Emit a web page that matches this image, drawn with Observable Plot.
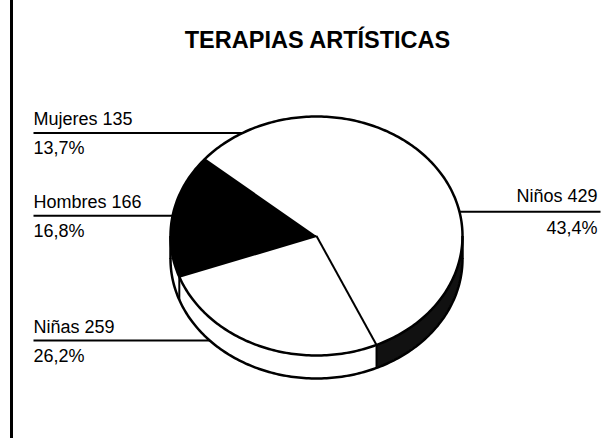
<!DOCTYPE html>
<html>
<head>
<meta charset="utf-8">
<script src="https://cdn.jsdelivr.net/npm/d3@7"></script>
<script src="https://cdn.jsdelivr.net/npm/@observablehq/plot@0.6"></script>
<style>
  html, body { margin: 0; padding: 0; background: #fff; }
  #wrap { position: relative; width: 611px; height: 438px; background: #fff; overflow: hidden; font-family: "Liberation Sans", Arial, sans-serif; }
  #edge { position: absolute; left: 10px; top: 0; width: 3px; height: 438px; background: #000; }
  #title { box-sizing: border-box; width: 611px; padding: 27px 0 0 24px; height: 53px; line-height: 26px; text-align: center; font-weight: bold; font-size: 23.5px; color: #000; }
  #chart svg { display: block; }
</style>
</head>
<body>
<div id="wrap">
  <div id="edge"></div>
  <div id="title">TERAPIAS ARTÍSTICAS</div>
  <div id="chart"></div>
</div>
<script>
// ---- data ----
const categories = ["Niñas", "Niños", "Mujeres", "Hombres"];
const values = [259, 429, 135, 166];
const topFills = ["white", "white", "white", "black"];
const wallFills = ["white", "#111", "white", "white"];
const startAngle = 200;              // degrees, counter-clockwise from 3 o'clock
const edgedSlices = ["Niñas", "Niños"]; // slices whose start edge is drawn

// ---- layout ----
const W = 611, H = 385;
const cx = 316, cy = 182.5, rx = 146, ry = 119.5;
const depth = 23 / ry;
const ux = px => (px - cx) / rx;
const rad = d => d * Math.PI / 180;
const anchorR = 0.95;

const total = d3.sum(values);
let acc = startAngle;
const slices = categories.map((name, i) => {
  const a0 = acc, a1 = acc + values[i] / total * 360;
  acc = a1;
  const mid = (a0 + a1) / 2;
  const ax = anchorR * Math.cos(rad(mid)), ay = anchorR * Math.sin(rad(mid));
  const pct = (values[i] / total * 100).toFixed(1).replace(".", ",") + "%";
  return {name, value: values[i], pct, a0, a1, mid, ax, ay, left: ax < 0, fill: topFills[i], wall: wallFills[i]};
});

function arc(a0, a1, step = 1) {
  const t = d3.range(a0, a1, step); t.push(a1); return t;
}

// top faces
const topPts = slices.flatMap(s => [{name: s.name, fill: s.fill, x: 0, y: 0},
  ...arc(s.a0, s.a1).map(t => ({name: s.name, fill: s.fill, x: Math.cos(rad(t)), y: Math.sin(rad(t))}))]);

// side walls (front half only)
const wallPts = [];
for (const s of slices) {
  for (const k of [0, 1]) {
    const lo = Math.max(s.a0, 180 + 360 * k), hi = Math.min(s.a1, 360 + 360 * k);
    if (hi > lo) for (const t of arc(lo, hi, 0.5)) {
      const y = Math.sin(rad(t));
      wallPts.push({key: s.name + k, fill: s.wall, x: Math.cos(rad(t)), y1: y - depth, y2: y});
    }
  }
}

const ellipse = arc(0, 360).map(t => ({x: Math.cos(rad(t)), y: Math.sin(rad(t))}));
const bottom = arc(180, 360).map(t => ({x: Math.cos(rad(t)), y: Math.sin(rad(t)) - depth}));
const norm = a => ((a % 360) + 360) % 360;
const frontBounds = slices.map(s => norm(s.a0)).filter(a => a > 180 && a < 360)
  .map(a => ({x: Math.cos(rad(a)), y: Math.sin(rad(a))}));
const edges = slices.filter(s => edgedSlices.includes(s.name))
  .map(s => ({x: Math.cos(rad(s.a0)), y: Math.sin(rad(s.a0))}));

const leftS = slices.filter(s => s.left), rightS = slices.filter(s => !s.left);
const xLeft = ux(33), xRight = ux(600);
const font = {fontSize: 18, fill: "black", fontFamily: "Liberation Sans, Arial, sans-serif"};

const chart = Plot.plot({
  width: W, height: H, margin: 0,
  x: {domain: [-1, 1], range: [cx - rx, cx + rx], axis: null},
  y: {domain: [-1, 1], range: [cy + ry, cy - ry], axis: null},
  color: {type: "identity"},
  style: {background: "white", overflow: "visible"},
  marks: [
    Plot.link(slices, {x1: d => d.left ? xLeft : d.ax, x2: d => d.left ? d.ax : xRight, y1: "ay", y2: "ay", stroke: "black", strokeWidth: 2}),
    Plot.areaY(wallPts, {x: "x", y1: "y1", y2: "y2", z: "key", fill: "fill", curve: "linear"}),
    Plot.line(topPts, {x: "x", y: "y", z: "name", fill: "fill", stroke: null, curve: "linear-closed"}),
    Plot.line(ellipse, {x: "x", y: "y", stroke: "black", strokeWidth: 2.5}),
    Plot.line(bottom, {x: "x", y: "y", stroke: "black", strokeWidth: 2.5}),
    Plot.link([-1, 1], {x1: d => d, x2: d => d, y1: 0, y2: -depth, stroke: "black", strokeWidth: 2.5}),
    Plot.link(frontBounds, {x1: "x", x2: "x", y1: "y", y2: d => d.y - depth, stroke: "black", strokeWidth: 2}),
    Plot.link(edges, {x1: 0, y1: 0, x2: "x", y2: "y", stroke: "black", strokeWidth: 2}),
    Plot.text(leftS, {y: "ay", text: d => `${d.name} ${d.value}`, frameAnchor: "left", dx: 33, dy: -8, textAnchor: "start", lineAnchor: "bottom", ...font}),
    Plot.text(leftS, {y: "ay", text: "pct", frameAnchor: "left", dx: 33, dy: 21, textAnchor: "start", lineAnchor: "bottom", ...font}),
    Plot.text(rightS, {y: "ay", text: d => `${d.name} ${d.value}`, frameAnchor: "right", dx: -14, dy: -10, textAnchor: "end", lineAnchor: "bottom", ...font}),
    Plot.text(rightS, {y: "ay", text: "pct", frameAnchor: "right", dx: -14, dy: 22, textAnchor: "end", lineAnchor: "bottom", ...font})
  ]
});
document.getElementById("chart").appendChild(chart);
</script>
</body>
</html>
